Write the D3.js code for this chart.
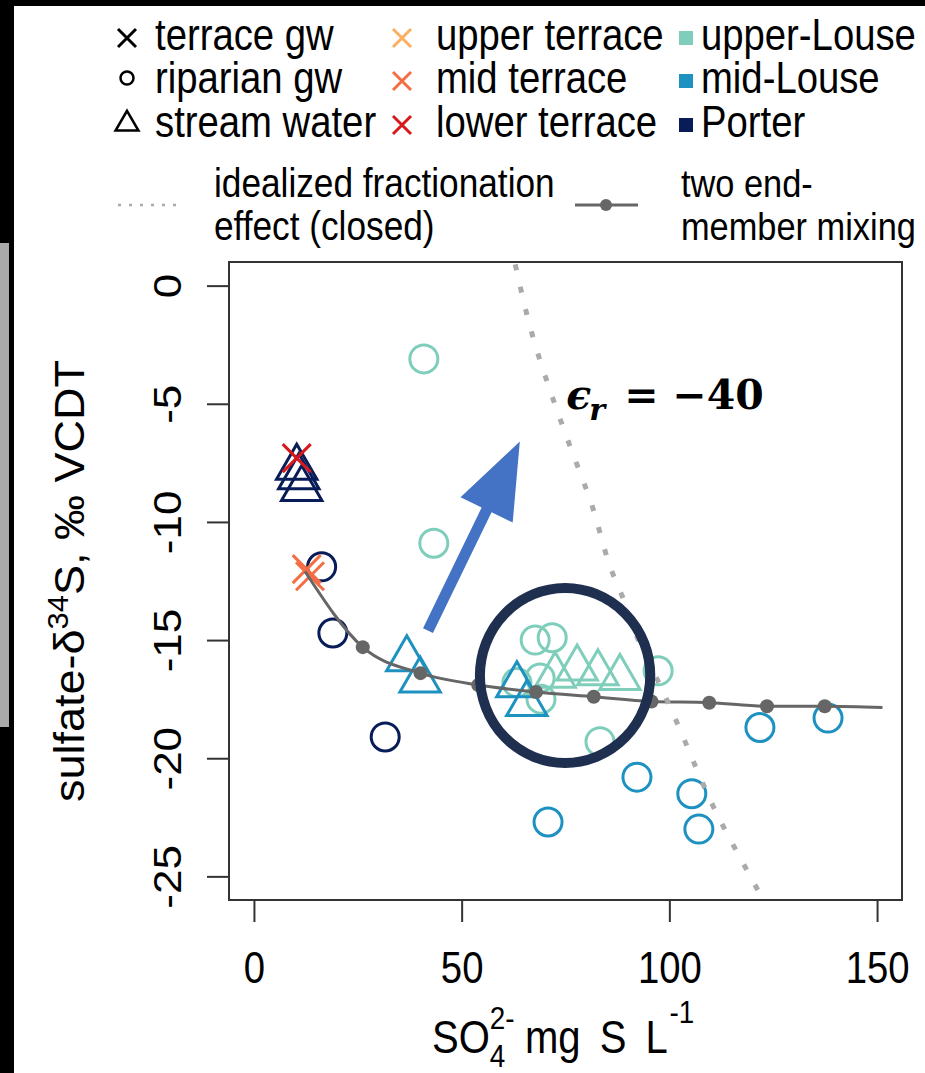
<!DOCTYPE html>
<html>
<head>
<meta charset="utf-8">
<script src="https://cdn.jsdelivr.net/npm/d3@7"></script>
<style>
body { margin: 0; background: #fff; }
svg { display: block; }
</style>
</head>
<body>
<svg></svg>
<script>
// datos: [SO4 mg S/L, delta34S]
var upperLouseRiparian = [[40.9,-3.1],[43.3,-10.9],[67.7,-15.0],[71.8,-14.9],[63.3,-16.8],[68.9,-16.6],[69.1,-17.5],[83.3,-19.3],[97.3,-16.3]];
var midLouseRiparian = [[70.8,-22.7],[92.2,-20.8],[105.4,-21.5],[107.1,-23.0],[121.8,-18.7],[138.2,-18.3]];
var porterRiparian = [[16.3,-11.9],[19.0,-14.7],[31.6,-19.1]];
var upperLouseStream = [[72.5,-16.5],[77.8,-16.2],[82.8,-16.4],[88.1,-16.6]];
var midLouseStream = [[36.8,-15.8],[40.0,-16.7],[63.3,-16.9],[65.7,-17.7]];
var porterStream = [[10.3,-7.7],[10.8,-8.1],[11.5,-8.6]];
var midTerrace = [[12.7,-12.0],[13.5,-12.3]];
var lowerTerrace = [[10.3,-7.3]];

// mezcla de dos miembros extremos
var mixX = [12.3, 26.2, 40.1, 54.0, 67.9, 81.8, 95.7, 109.6, 123.5, 137.4, 151.3];
var mixY = [-12.1, -15.3, -16.4, -16.9, -17.2, -17.4, -17.6, -17.65, -17.8, -17.8, -17.85];

// fraccionamiento idealizado (sistema cerrado)
var fracX = [62.9, 67.2, 71.8, 76.1, 81.0, 86.4, 88.8, 93.0, 98.0, 102.6, 106.9, 111.0, 117.0, 122.3];
var fracY = [0.9, -2.2, -4.7, -6.8, -9.1, -12.2, -13.2, -15.2, -17.0, -18.8, -20.6, -22.2, -24.2, -25.9];

var xTicks = [0, 50, 100, 150];
var yTicks = [0, -5, -10, -15, -20, -25];

var shapeLabels = ["terrace gw", "riparian gw", "stream water"];
var siteLabels = ["upper terrace", "mid terrace", "lower terrace"];
var siteColors = ["#fdae61", "#f46d43", "#d7191c"];
var streamLabels = ["upper-Louse", "mid-Louse", "Porter"];
var streamColors = ["#7fcdbb", "#1d91c0", "#081d58"];

// anotaciones
var ringCenter = [74.9, -16.5], ringRadius = [20.5, 3.7];
var arrowFrom = [41.9, -14.6], arrowTo = [64.0, -6.6];
var epsAt = [75.2, -5.2];

//variables globales
var W = 925, H = 1073;
var SX = 0.87; // el texto del original se ve comprimido en horizontal
var FONT = "'Liberation Sans', Arial, sans-serif";

var svg = d3.select("svg").attr("width", W).attr("height", H)
  .attr("font-family", FONT);

svg.append("rect").attr("width", W).attr("height", H).attr("fill", "#fff");
// bordes de la captura
svg.append("rect").attr("x", 0).attr("y", 0).attr("width", 14).attr("height", H).attr("fill", "#000");
svg.append("rect").attr("x", 0).attr("y", 0).attr("width", W).attr("height", 6).attr("fill", "#000");
svg.append("rect").attr("x", 0).attr("y", 243).attr("width", 9).attr("height", 484).attr("fill", "#aaa");

var x = d3.scaleLinear().domain([-6, 156]).range([229, 902]);
var y = d3.scaleLinear().domain([-26, 1]).range([900, 262]);

function label(g, px, py, s, size) {
  return g.append("text")
    .attr("transform", "translate(" + px + "," + py + ") scale(" + SX + ",1)")
    .attr("font-size", size)
    .text(s);
}
function tri(cx, cy, R) {
  return "M" + cx + "," + (cy - 1.555 * R) +
    "L" + (cx + 1.347 * R) + "," + (cy + 0.7775 * R) +
    "L" + (cx - 1.347 * R) + "," + (cy + 0.7775 * R) + "Z";
}
function cross(cx, cy, r) {
  return "M" + (cx - r) + "," + (cy - r) + "L" + (cx + r) + "," + (cy + r) +
    "M" + (cx - r) + "," + (cy + r) + "L" + (cx + r) + "," + (cy - r);
}

// ---- leyenda 1
var leg = svg.append("g");
var rowsY = [50, 93, 137];
rowsY.forEach(function(by, i) {
  var cy = by - 12;
  if (i == 0) leg.append("path").attr("d", cross(127, cy, 9)).attr("stroke", "#000").attr("stroke-width", 3);
  if (i == 1) leg.append("circle").attr("cx", 127).attr("cy", cy - 3).attr("r", 6.5).attr("fill", "none").attr("stroke", "#000").attr("stroke-width", 2.5);
  if (i == 2) leg.append("path").attr("d", tri(127, cy - 1, 8.5)).attr("fill", "none").attr("stroke", "#000").attr("stroke-width", 2.5);
  label(leg, 155, by, shapeLabels[i], 44);
  leg.append("path").attr("d", cross(402, cy, 9)).attr("stroke", siteColors[i]).attr("stroke-width", 3);
  label(leg, 436, by, siteLabels[i], 44);
  leg.append("rect").attr("x", 679).attr("y", cy - 7).attr("width", 14).attr("height", 14).attr("fill", streamColors[i]);
  label(leg, 701, by, streamLabels[i], 44);
});

// ---- leyenda 2
leg.append("line").attr("x1", 118).attr("x2", 182).attr("y1", 205).attr("y2", 205)
  .attr("stroke", "#aaa").attr("stroke-width", 2.5).attr("stroke-dasharray", "3 8");
label(leg, 214, 197, "idealized fractionation", 40.5);
label(leg, 214, 240, "effect (closed)", 40.5);
leg.append("line").attr("x1", 575).attr("x2", 638).attr("y1", 205).attr("y2", 205)
  .attr("stroke", "#666").attr("stroke-width", 3);
leg.append("circle").attr("cx", 606).attr("cy", 205).attr("r", 6).attr("fill", "#666");
label(leg, 681, 197, "two end-", 39.5);
label(leg, 681, 240, "member mixing", 39.5);

// ---- area del grafico
svg.append("clipPath").attr("id", "clip").append("rect")
  .attr("x", 229).attr("y", 262).attr("width", 673).attr("height", 638);
var plot = svg.append("g").attr("clip-path", "url(#clip)");

function drawCircles(data, color) {
  plot.selectAll(null).data(data).enter().append("circle")
    .attr("cx", function(d) { return x(d[0]); })
    .attr("cy", function(d) { return y(d[1]); })
    .attr("r", 14).attr("fill", "none")
    .attr("stroke", color).attr("stroke-width", 3);
}
function drawTriangles(data, color) {
  plot.selectAll(null).data(data).enter().append("path")
    .attr("d", function(d) { return tri(x(d[0]), y(d[1]), 15); })
    .attr("fill", "none").attr("stroke", color).attr("stroke-width", 3);
}
function drawCrosses(data, color) {
  plot.selectAll(null).data(data).enter().append("path")
    .attr("d", function(d) { return cross(x(d[0]), y(d[1]), 14); })
    .attr("stroke", color).attr("stroke-width", 3);
}

drawCircles(upperLouseRiparian, streamColors[0]);
drawCircles(midLouseRiparian, streamColors[1]);
drawCircles(porterRiparian, streamColors[2]);
drawTriangles(upperLouseStream, streamColors[0]);
drawTriangles(midLouseStream, streamColors[1]);
drawTriangles(porterStream, streamColors[2]);
drawCrosses(midTerrace, siteColors[1]);
drawCrosses(lowerTerrace, siteColors[2]);

// linea de mezcla
var mix = mixX.map(function(v, i) { return [v, mixY[i]]; });
plot.append("path").datum(mix)
  .attr("d", d3.line().x(function(d) { return x(d[0]); }).y(function(d) { return y(d[1]); }).curve(d3.curveMonotoneX))
  .attr("fill", "none").attr("stroke", "#666").attr("stroke-width", 3);
plot.selectAll(null).data(mix.slice(1, mix.length - 1)).enter().append("circle")
  .attr("cx", function(d) { return x(d[0]); })
  .attr("cy", function(d) { return y(d[1]); })
  .attr("r", 7).attr("fill", "#666");

// curva de fraccionamiento
var frac = fracX.map(function(v, i) { return [v, fracY[i]]; });
plot.append("path").datum(frac)
  .attr("d", d3.line().x(function(d) { return x(d[0]); }).y(function(d) { return y(d[1]); }).curve(d3.curveMonotoneY))
  .attr("fill", "none").attr("stroke", "#aaa").attr("stroke-width", 5)
  .attr("stroke-dasharray", "6 17");

// ---- ejes
svg.append("rect").attr("x", 229).attr("y", 262).attr("width", 673).attr("height", 638)
  .attr("fill", "none").attr("stroke", "#333").attr("stroke-width", 2);

var gx = svg.append("g").attr("transform", "translate(0,900)")
  .call(d3.axisBottom(x).tickValues(xTicks).tickSize(22).tickFormat(function(d) { return String(d); }));
gx.select(".domain").remove();
gx.attr("font-family", FONT).attr("font-size", 44);
gx.selectAll("line").attr("stroke", "#333").attr("stroke-width", 2);
gx.selectAll("text").attr("y", 83).attr("dy", null).attr("fill", "#000")
  .attr("transform", "scale(" + SX + ",1)");

var gy = svg.append("g").attr("transform", "translate(229,0)")
  .call(d3.axisLeft(y).tickValues(yTicks).tickSize(22).tickFormat(function(d) { return String(d); }));
gy.select(".domain").remove();
gy.attr("font-family", FONT).attr("font-size", 44);
gy.selectAll("line").attr("stroke", "#333").attr("stroke-width", 2);
gy.selectAll("text").attr("x", null).attr("dy", null).attr("fill", "#000")
  .attr("text-anchor", "middle")
  .attr("transform", "translate(-48,0) rotate(-90) scale(1," + SX + ")");

// titulos de ejes
var yt = svg.append("text").attr("font-size", 45).attr("text-anchor", "middle")
  .attr("transform", "translate(84,581) rotate(-90) scale(1,0.95)");
yt.append("tspan").text("sulfate-\u03b4");
yt.append("tspan").attr("font-size", 31).attr("dy", -17).text("34");
yt.append("tspan").attr("dy", 17).text("S, \u2030 VCDT");

var xt = svg.append("text").attr("font-size", 46)
  .attr("transform", "translate(432,1053) scale(" + SX + ",1)");
xt.append("tspan").text("SO");
var sub = xt.append("tspan").attr("font-size", 32).attr("dy", 14).text("4");
var w4 = sub.node().getComputedTextLength();
xt.append("tspan").attr("font-size", 32).attr("dx", -w4).attr("dy", -38).text("2-");
xt.append("tspan").attr("dx", 12).attr("dy", 24).text("mg");
xt.append("tspan").attr("dx", 22).text("S");
xt.append("tspan").attr("dx", 22).text("L");
xt.append("tspan").attr("font-size", 32).attr("dx", 2).attr("dy", -30).text("-1");

// ---- anotaciones
var ann = svg.append("g");
ann.append("ellipse")
  .attr("cx", x(ringCenter[0])).attr("cy", y(ringCenter[1]))
  .attr("rx", x(ringCenter[0] + ringRadius[0]) - x(ringCenter[0]))
  .attr("ry", y(ringCenter[1] - ringRadius[1]) - y(ringCenter[1]))
  .attr("fill", "none").attr("stroke", "#1f2f50").attr("stroke-width", 10);

var ax0 = x(arrowFrom[0]), ay0 = y(arrowFrom[1]), ax1 = x(arrowTo[0]), ay1 = y(arrowTo[1]);
var len = Math.hypot(ax1 - ax0, ay1 - ay0), ux = (ax1 - ax0) / len, uy = (ay1 - ay0) / len;
var head = 76, hw = 29, sw = 5.5;
var bx = ax1 - ux * head, by = ay1 - uy * head;
var pts = [
  [ax0 - uy * sw, ay0 + ux * sw], [bx - uy * sw, by + ux * sw], [bx - uy * hw, by + ux * hw],
  [ax1, ay1],
  [bx + uy * hw, by - ux * hw], [bx + uy * sw, by - ux * sw], [ax0 + uy * sw, ay0 - ux * sw]
];
ann.append("path").attr("d", "M" + pts.join("L") + "Z").attr("fill", "#4472c4");

var ex = x(epsAt[0]), ey = y(epsAt[1]);
var eps = ann.append("text").attr("font-family", "'DejaVu Serif', serif").attr("font-weight", "bold")
  .attr("font-size", 41).attr("y", ey);
eps.append("tspan").attr("x", ex).attr("font-style", "italic").text("\u03f5");
eps.append("tspan").attr("x", ex + 23).attr("dy", 11).attr("font-size", 30).attr("font-style", "italic").text("r");
eps.append("tspan").attr("x", ex + 58).attr("dy", -11).text("=");
eps.append("tspan").attr("x", ex + 106).text("\u221240");
</script>
</body>
</html>
